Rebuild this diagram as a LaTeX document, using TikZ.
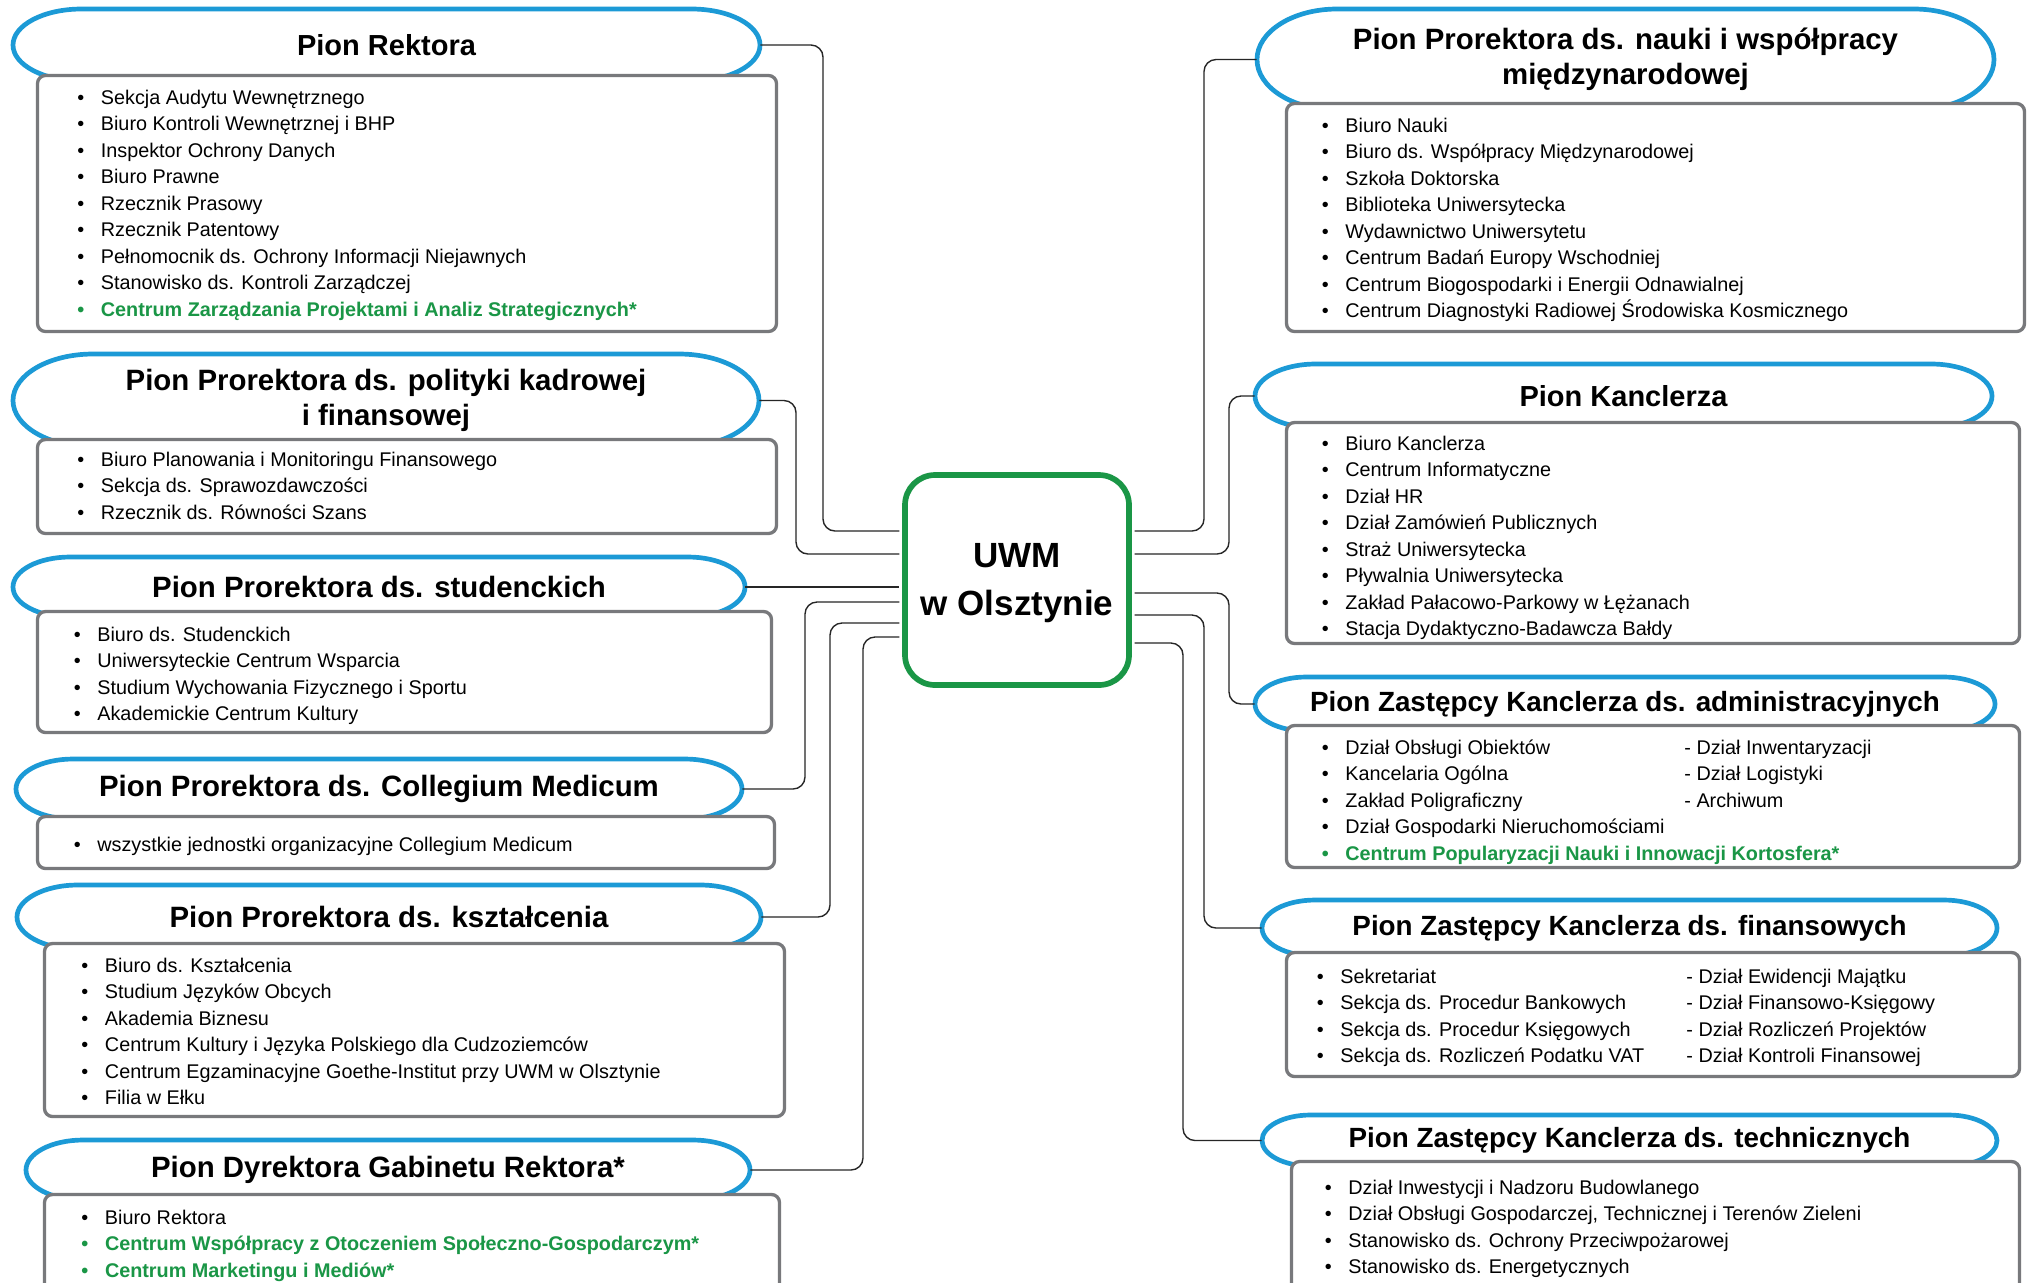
\documentclass[tikz,border=0pt]{standalone}
\usepackage{fontspec}
\setmainfont{Liberation Sans}
\usetikzlibrary{fit}
\definecolor{pionblue}{RGB}{28,154,214}
\definecolor{boxgray}{RGB}{120,121,124}
\definecolor{uwmgreen}{RGB}{26,150,70}
\colorlet{linecol}{black!85}
\newcommand{\itemfont}{\fontsize{9.9pt}{12pt}\selectfont}
\newcommand{\pionfont}{\fontsize{14.7pt}{17.5pt}\selectfont\bfseries}
\tikzstyle{pion}=[inner sep=0pt]
\tikzstyle{piontitle}=[inner sep=0pt, align=center, font=\pionfont]
\tikzstyle{narrowtitle}=[font=\fontsize{13.9pt}{17pt}\selectfont\bfseries]
\tikzstyle{pionline}=[pionblue, line width=2.35pt]
\tikzstyle{listbox}=[draw=boxgray, line width=1.65pt, fill=white, rounded corners=4pt, inner sep=0pt]
\tikzstyle{item}=[anchor=base west, inner sep=0pt, font=\itemfont,
  execute at begin node={\llap{\textbullet\hspace{8.3pt}}}]
\tikzstyle{greenitem}=[item, text=uwmgreen, font=\itemfont\bfseries]
\tikzstyle{subitem}=[anchor=base west, inner sep=0pt, font=\itemfont]
\tikzstyle{conn}=[linecol, line width=0.7pt, rounded corners=6pt, shorten >=1.4pt]
\tikzstyle{uwm}=[draw=uwmgreen, line width=2.85pt, fill=white, rounded corners=15pt, inner sep=0pt]
\tikzstyle{uwmtitle}=[inner sep=0pt, align=center, font=\fontsize{17.5pt}{24.2pt}\selectfont\bfseries]

% pill with a title: [title options] name, left, top, right, bottom, title
\newcommand{\pion}[7][]{%
  \pgfmathsetmacro{\ry}{(#6-#4)/2}%
  \pgfmathsetmacro{\rx}{min(1.9*\ry,80)}%
  \draw[pionline] (#3+\rx,#4) -- (#5-\rx,#4)
    arc[start angle=-90, end angle=90, x radius=\rx, y radius=\ry]
    -- (#3+\rx,#6)
    arc[start angle=90, end angle=270, x radius=\rx, y radius=\ry] -- cycle;
  \node[pion, fit={(#3,#4) (#5,#6)}] (#2) {};
  \node[piontitle, #1] (#2-title) at (#2.center) {#7};
}

\begin{document}
\begin{tikzpicture}[x=0.5pt, y=-0.5pt]
  \fill[white] (0,0) rectangle (2033,1282);
  \useasboundingbox (0,0) rectangle (2033,1282);

  % Left column
  \pion[font=\fontsize{14.5pt}{17.5pt}\selectfont\bfseries]{rektor}{13}{9}{760}{81}{Pion Rektora}
  \node[listbox, fit={(37.5,75.5) (776.5,331.5)}] (rektor-box) {};
  \foreach \t [count=\i from 0] in {Sekcja Audytu Wewnętrznego,
    Biuro Kontroli Wewnętrznej i BHP, Inspektor Ochrony Danych, Biuro Prawne,
    Rzecznik Prasowy, Rzecznik Patentowy,
    Pełnomocnik ds. Ochrony Informacji Niejawnych,
    Stanowisko ds. Kontroli Zarządczej}
    \node[item] (rektor-\i) at (100.5,104+26.5*\i) {\t};
  \node[greenitem] (rektor-8) at (100.5,104+26.5*8)
    {Centrum Zarządzania Projektami i Analiz Strategicznych*};

  \pion{kadra}{13}{354}{759}{447}{Pion Prorektora ds. polityki kadrowej\\i finansowej}
  \node[listbox, fit={(37.5,439.5) (776.5,533.5)}] (kadra-box) {};
  \foreach \t [count=\i from 0] in {Biuro Planowania i Monitoringu Finansowego,
    Sekcja ds. Sprawozdawczości, Rzecznik ds. Równości Szans}
    \node[item] (kadra-\i) at (100.5,466+26.5*\i) {\t};

  \pion{studenci}{13}{557}{745}{617}{Pion Prorektora ds. studenckich}
  \node[listbox, fit={(37.5,611.5) (771.5,732.5)}] (studenci-box) {};
  \foreach \t [count=\i from 0] in {Biuro ds. Studenckich,
    Uniwersyteckie Centrum Wsparcia, Studium Wychowania Fizycznego i Sportu,
    Akademickie Centrum Kultury}
    \node[item] (studenci-\i) at (97,641+26.5*\i) {\t};

  \pion{medicum}{16}{759}{742}{819}{Pion Prorektora ds. Collegium Medicum}
  \node[listbox, fit={(37.5,816.5) (774.5,868.5)}] (medicum-box) {};
  \node[item] (medicum-0) at (97,851.5) {wszystkie jednostki organizacyjne Collegium Medicum};

  \pion{ksztal}{17}{885}{761}{949}{Pion Prorektora ds. kształcenia}
  \node[listbox, fit={(44.5,943.5) (784.5,1116.5)}] (ksztal-box) {};
  \foreach \t [count=\i from 0] in {Biuro ds. Kształcenia, Studium Języków Obcych,
    Akademia Biznesu, Centrum Kultury i Języka Polskiego dla Cudzoziemców,
    Centrum Egzaminacyjne Goethe-Institut przy UWM w Olsztynie, Filia w Ełku}
    \node[item] (ksztal-\i) at (104.6,972+26.5*\i) {\t};

  \pion{gabinet}{26}{1140}{750}{1200}{Pion Dyrektora Gabinetu Rektora*}
  \node[listbox, fit={(44.5,1194.5) (779.5,1300)}] (gabinet-box) {};
  \node[item] (gabinet-0) at (104.6,1224) {Biuro Rektora};
  \node[greenitem] (gabinet-1) at (104.6,1250.5)
    {Centrum Współpracy z Otoczeniem Społeczno-Gospodarczym*};
  \node[greenitem] (gabinet-2) at (104.6,1277) {Centrum Marketingu i Mediów*};

  % Right column
  \pion{nauka}{1257}{9}{1994}{110}{Pion Prorektora ds. nauki i współpracy\\międzynarodowej}
  \node[listbox, fit={(1286.5,103.5) (2024.5,331.5)}] (nauka-box) {};
  \foreach \t [count=\i from 0] in {Biuro Nauki,
    Biuro ds. Współpracy Międzynarodowej, Szkoła Doktorska,
    Biblioteka Uniwersytecka, Wydawnictwo Uniwersytetu,
    Centrum Badań Europy Wschodniej, Centrum Biogospodarki i Energii Odnawialnej,
    Centrum Diagnostyki Radiowej Środowiska Kosmicznego}
    \node[item] (nauka-\i) at (1345,132+26.5*\i) {\t};

  \pion[font=\fontsize{14.5pt}{17.5pt}\selectfont\bfseries]{kanclerz}{1255}{364}{1992}{428}{Pion Kanclerza}
  \node[listbox, fit={(1286.5,422.5) (2019.5,643.5)}] (kanclerz-box) {};
  \foreach \t [count=\i from 0] in {Biuro Kanclerza, Centrum Informatyczne,
    Dział HR, Dział Zamówień Publicznych, Straż Uniwersytecka,
    Pływalnia Uniwersytecka, Zakład Pałacowo-Parkowy w Łężanach,
    Stacja Dydaktyczno-Badawcza Bałdy}
    \node[item] (kanclerz-\i) at (1345,450+26.5*\i) {\t};

  \pion[narrowtitle]{admin}{1255}{677}{1995}{731}{Pion Zastępcy Kanclerza ds. administracyjnych}
  \node[listbox, fit={(1286.5,725.5) (2019.5,867.5)}] (admin-box) {};
  \foreach \t [count=\i from 0] in {Dział Obsługi Obiektów, Kancelaria Ogólna,
    Zakład Poligraficzny, Dział Gospodarki Nieruchomościami}
    \node[item] (admin-\i) at (1345,754+26.5*\i) {\t};
  \node[greenitem] (admin-4) at (1345,754+26.5*4)
    {Centrum Popularyzacji Nauki i Innowacji Kortosfera*};
  \foreach \t [count=\i from 0] in {Dział Inwentaryzacji, Dział Logistyki, Archiwum}
    \node[subitem] (admin-sub-\i) at (1684,754+26.5*\i) {- \t};

  \pion[narrowtitle]{finanse}{1262}{900}{1997}{956}{Pion Zastępcy Kanclerza ds. finansowych}
  \node[listbox, fit={(1286.5,952.5) (2019.5,1076.5)}] (finanse-box) {};
  \foreach \t [count=\i from 0] in {Sekretariat, Sekcja ds. Procedur Bankowych,
    Sekcja ds. Procedur Księgowych, Sekcja ds. Rozliczeń Podatku VAT}
    \node[item] (finanse-\i) at (1340,983+26.5*\i) {\t};
  \foreach \t [count=\i from 0] in {Dział Ewidencji Majątku,
    Dział Finansowo-Księgowy, Dział Rozliczeń Projektów, Dział Kontroli Finansowej}
    \node[subitem] (finanse-sub-\i) at (1686,983+26.5*\i) {- \t};

  \pion[narrowtitle]{techn}{1262}{1115}{1997}{1166}{Pion Zastępcy Kanclerza ds. technicznych}
  \node[listbox, fit={(1291.5,1161.5) (2019.5,1300)}] (techn-box) {};
  \foreach \t [count=\i from 0] in {Dział Inwestycji i Nadzoru Budowlanego,
    {Dział Obsługi Gospodarczej, Technicznej i Terenów Zieleni},
    Stanowisko ds. Ochrony Przeciwpożarowej, Stanowisko ds. Energetycznych}
    \node[item] (techn-\i) at (1348,1194+26.5*\i) {\t};

  % University in the middle
  \node[uwm, fit={(905,475) (1129,685)}] (uwm) {};
  \node[uwmtitle, yshift=-1.5pt] (uwm-title) at (uwm.center) {UWM\\w Olsztynie};

  % Connectors
  \draw[conn] (rektor.east) -| (823,531) -- (uwm.west |- 0,531);
  \draw[conn] (kadra.east) -| (796,554) -- (uwm.west |- 0,554);
  \draw[conn] (studenci.east) -- (uwm.west |- studenci.east);
  \draw[conn] (medicum.east) -| (805,602) -- (uwm.west |- 0,602);
  \draw[conn] (ksztal.east) -| (830,623) -- (uwm.west |- 0,623);
  \draw[conn] (gabinet.east) -| (863,637) -- (uwm.west |- 0,637);
  \draw[conn] (nauka.west) -| (1204,531) -- (uwm.east |- 0,531);
  \draw[conn] (kanclerz.west) -| (1229,554) -- (uwm.east |- 0,554);
  \draw[conn] (admin.west) -| (1229,593) -- (uwm.east |- 0,593);
  \draw[conn] (finanse.west) -| (1204,615) -- (uwm.east |- 0,615);
  \draw[conn] (techn.west) -| (1183,643) -- (uwm.east |- 0,643);
\end{tikzpicture}
\end{document}
